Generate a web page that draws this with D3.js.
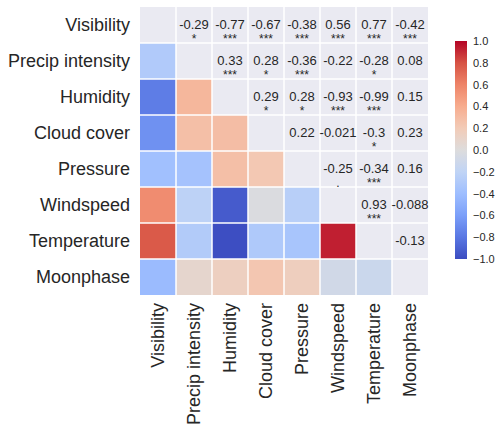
<!DOCTYPE html>
<html><head><meta charset="utf-8">
<script src="https://cdn.jsdelivr.net/npm/d3@7"></script>
<style>body{margin:0;background:#fff}svg{display:block}text{font-family:"Liberation Sans",Arial,sans-serif;fill:#262626}</style>
</head><body><svg id="c" width="497" height="428"></svg>
<script>
const labels = ["Visibility","Precip intensity","Humidity","Cloud cover","Pressure","Windspeed","Temperature","Moonphase"];
// upper-triangle correlations, row i vs columns i+1..7
const corrRows = [
  [-0.29,-0.77,-0.67,-0.38,0.56,0.77,-0.42],
  [0.33,0.28,-0.36,-0.22,-0.28,0.08],
  [0.29,0.28,-0.93,-0.99,0.15],
  [0.22,-0.021,-0.3,0.23],
  [-0.25,-0.34,0.16],
  [0.93,-0.088],
  [-0.13],
  []
];
const sigRows = [
  ["*","***","***","***","***","***","***"],
  ["***","*","***","","*",""],
  ["*","*","***","***",""],
  ["","","*",""],
  [".","***",""],
  ["***",""],
  [""],
  []
];
const cbTicks = [-1.0,-0.8,-0.6,-0.4,-0.2,0.0,0.2,0.4,0.6,0.8,1.0];
const coolwarm = ["#3b4cc0","#5977e3","#7b9ff9","#9ebeff","#c0d4f5","#dddcdc","#f2cbb7","#f7ac8e","#ee8468","#d65244","#b40426"];

const n = labels.length;
const val = (i,j) => i===j ? 1 : (i<j ? corrRows[i][j-i-1] : corrRows[j][i-j-1]);
const sig = (i,j) => sigRows[i][j-i-1];

const svg = d3.select("#c");
const x0 = 140, y0 = 7, size = 288;
const x = d3.scaleBand().domain(d3.range(n)).range([x0, x0+size]);
const y = d3.scaleBand().domain(d3.range(n)).range([y0, y0+size]);
const color = d3.scaleLinear().domain(d3.range(11).map(k => -1 + k*0.2)).range(coolwarm).interpolate(d3.interpolateRgb).clamp(true);

svg.append("rect").attr("x",x0).attr("y",y0).attr("width",size).attr("height",size).attr("fill","#eaeaf2");

const cells = [];
for (let i=0;i<n;i++) for (let j=0;j<i;j++) cells.push({i,j,v:val(i,j)});
svg.append("g").selectAll("rect").data(cells).join("rect")
  .attr("x",d=>x(d.j)).attr("y",d=>y(d.i))
  .attr("width",x.bandwidth()).attr("height",y.bandwidth())
  .attr("fill",d=>color(d.v));

// white grid lines at cell boundaries
const g = svg.append("g").attr("stroke","#fff").attr("stroke-width",1.5);
for (let k=1;k<n;k++){
  g.append("line").attr("x1",x0+k*x.step()).attr("x2",x0+k*x.step()).attr("y1",y0).attr("y2",y0+size);
  g.append("line").attr("y1",y0+k*y.step()).attr("y2",y0+k*y.step()).attr("x1",x0).attr("x2",x0+size);
}

const loc = d3.formatLocale({decimal:".",thousands:",",grouping:[3],currency:["",""],minus:"-"});
const fmt = loc.format(".2~g");
const ann = [];
for (let i=0;i<n;i++) for (let j=i+1;j<n;j++) ann.push({i,j,v:val(i,j),s:sig(i,j)});
const ag = svg.append("g");
ag.selectAll("text.v").data(ann).join("text").attr("class","v")
  .attr("x",d=>x(d.j)+x.bandwidth()/2).attr("y",d=>y(d.i)+y.bandwidth()/2-1)
  .attr("text-anchor","middle").attr("dominant-baseline","central")
  .attr("font-size",13).text(d=>fmt(d.v));
ag.selectAll("text.s").data(ann.filter(d=>d.s)).join("text").attr("class","s")
  .attr("x",d=>x(d.j)+x.bandwidth()/2).attr("y",d=>y(d.i)+y.bandwidth()/2+17.5)
  .attr("text-anchor","middle")
  .attr("font-size",12).text(d=>d.s);

// y labels
svg.append("g").selectAll("text").data(labels).join("text")
  .attr("x",x0-10).attr("y",(d,i)=>y(i)+y.bandwidth()/2)
  .attr("text-anchor","end").attr("dominant-baseline","central")
  .attr("font-size",18).text(d=>d);
// x labels
svg.append("g").selectAll("text").data(labels).join("text")
  .attr("transform",(d,i)=>`translate(${x(i)+x.bandwidth()/2},${y0+size+8}) rotate(-90)`)
  .attr("text-anchor","end").attr("dominant-baseline","central")
  .attr("font-size",18).text(d=>d);

// colorbar
const cbx = 455, cbw = 12, cbTop = 41, cbBot = 259;
const cy = d3.scaleLinear().domain([-1,1]).range([cbBot, cbTop]);
const defs = svg.append("defs");
const grad = defs.append("linearGradient").attr("id","cb").attr("x1",0).attr("y1",1).attr("x2",0).attr("y2",0);
d3.range(0,1.0001,0.05).forEach(t=>grad.append("stop").attr("offset",t).attr("stop-color",color(-1+2*t)));
svg.append("rect").attr("x",cbx).attr("y",cbTop).attr("width",cbw).attr("height",cbBot-cbTop).attr("fill","url(#cb)");
const cfmt = d3.format(".1f");
svg.append("g").selectAll("text").data(cbTicks).join("text")
  .attr("x",cbx+cbw+6).attr("y",d=>cy(d)).attr("dominant-baseline","central")
  .attr("font-size",11).text(d=>cfmt(d));
</script></body></html>
